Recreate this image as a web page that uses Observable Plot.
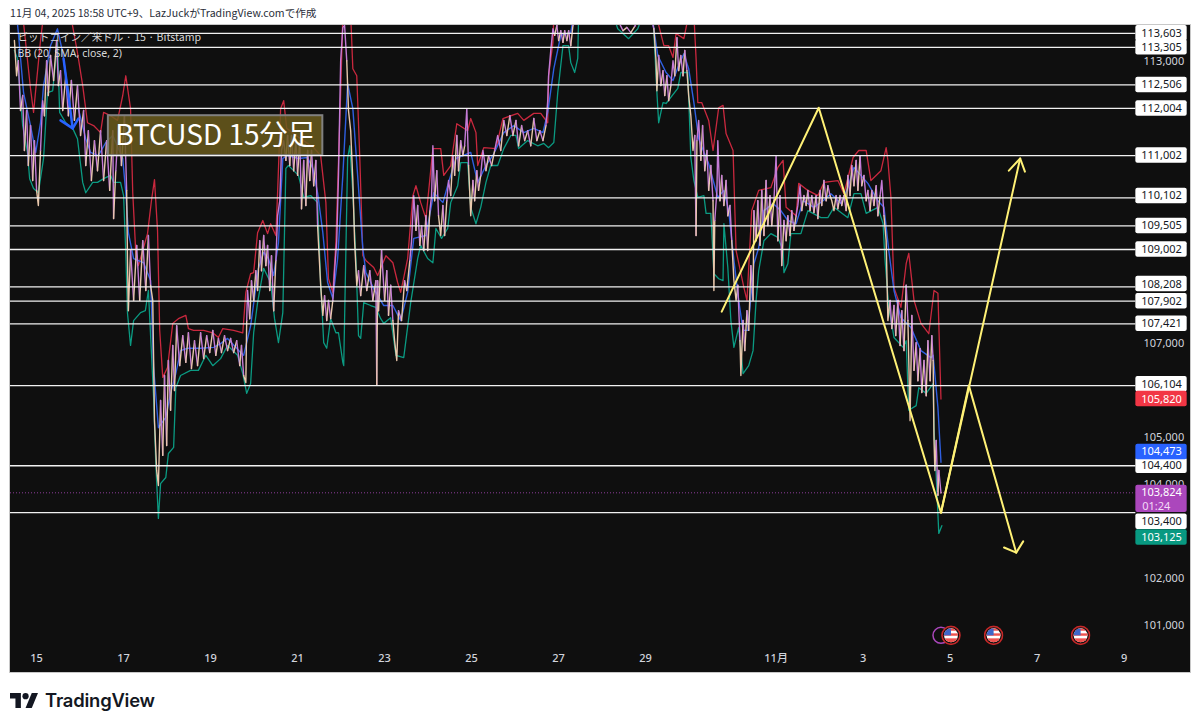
<!DOCTYPE html>
<html lang="ja"><head><meta charset="utf-8">
<script src="https://cdn.jsdelivr.net/npm/d3@7"></script>
<script src="https://cdn.jsdelivr.net/npm/@observablehq/plot@0.6"></script>
<style>
html,body{margin:0;padding:0;background:#fff;width:1200px;height:727px;overflow:hidden}
body{position:relative;font-family:"Noto Sans CJK JP","Noto Sans",sans-serif}
#stamp{position:absolute;left:10px;top:5px;font-size:10.6px;line-height:16px;color:#2a2e39;white-space:nowrap}
#chart{position:absolute;left:10px;top:25px;box-shadow:0 0 0 1px #c8c8c8}
#chart svg{display:block}
#brand{position:absolute;left:10px;top:688px;display:flex;align-items:center;gap:7px;color:#131722;font:600 18.4px/24px Inter,sans-serif;letter-spacing:-.2px}
</style></head><body>
<div id="stamp">11月 04, 2025 18:58 UTC+9、LazJuckがTradingView.comで作成</div>
<div id="chart"></div>
<div id="brand"><svg width="28" height="15" viewBox="0 0 36 19"><path fill="#131722" d="M0 0h14v19H7V7H0z"/><circle cx="20" cy="4" r="4" fill="#131722"/><path fill="#131722" d="M28 0h8l-8 19h-8z"/></svg><span>TradingView</span></div>
<script>
// x unit: day counted from 1 Oct 2025 (32 = 1 Nov)
const upperDays=[14.49,14.68,14.86,14.93,15.09,15.16,15.78,15.94,16.06,16.17,16.31,16.47,16.54,16.70,16.86,16.98,17.05,17.16,17.21,17.28,17.34,17.55,17.64,17.71,17.78,17.83,17.90,18.01,18.13,18.26,18.43,18.49,18.61,18.84,19.05,19.18,19.28,19.53,19.74,19.81,19.92,19.99,20.08,20.20,20.31,20.38,20.50,20.54,20.61,20.68,20.75,21.07,21.37,21.53,21.65,21.71,21.81,21.88,21.99,22.04,22.22,22.27,22.36,22.43,22.50,22.57,22.75,22.84,23.03,23.19,23.30,23.37,23.53,23.65,23.72,23.83,23.95,24.11,24.29,24.36,24.52,24.66,24.91,24.98,25.10,25.14,25.28,25.56,25.72,26.06,26.20,26.43,26.59,26.75,26.77,26.87,26.89,29.24,29.42,29.53,29.63,29.70,29.88,29.99,30.11,30.16,30.20,30.29,30.45,30.55,30.68,30.78,30.85,31.01,31.08,31.26,31.33,31.44,31.60,31.88,32.04,32.16,32.23,32.46,32.52,32.73,32.96,33.10,33.42,33.56,33.77,33.90,34.07,34.18,34.41,34.53,34.57,34.64,34.71,34.87,34.99,35.05,35.17,35.33,35.51,35.63,35.72,35.79];
const upperVals=[114000,114000,112430,111920,113450,114000,114000,113190,112490,111700,111640,111490,111920,111850,111750,112280,112700,112000,110210,108940,108660,109340,110040,110490,109410,107280,106280,106490,107430,107530,107600,107320,107280,107280,107230,107130,107320,107280,107230,108090,108490,108510,109360,109620,109340,109550,109300,110210,112000,112170,111580,111360,111170,111000,110000,108380,108090,109150,112340,114000,114000,112850,112700,110940,108870,108770,108620,108450,108870,108720,108300,108090,108810,110150,110360,110000,109660,111150,111150,110580,110790,111680,111530,111790,111490,110790,111170,111150,111790,111900,111750,111900,111900,111700,112700,113410,114000,114000,113340,113340,113090,113600,113490,114000,114000,113070,112130,112130,111750,111110,112020,112070,111470,111110,108980,108190,107920,109830,110260,110320,110750,110900,109900,109720,110410,110260,110150,110430,110470,110190,110960,111110,111110,110470,110680,111170,110900,110110,108190,107770,108700,108920,107920,107430,107210,108130,108070,105820];

const basisDays=[14.54,14.58,14.70,14.86,14.98,15.09,15.16,15.32,15.48,15.60,15.78,15.96,16.13,16.24,16.42,16.59,16.75,16.88,16.98,17.05,17.11,17.23,17.46,17.62,17.69,17.80,17.97,18.08,18.20,18.31,18.47,18.77,19.07,19.23,19.39,19.69,19.76,19.92,20.10,20.22,20.33,20.45,20.56,20.66,20.77,21.02,21.23,21.35,21.46,21.58,21.69,21.81,21.92,22.04,22.15,22.27,22.38,22.50,22.57,22.75,22.98,23.19,23.37,23.53,23.67,23.95,24.13,24.34,24.47,24.64,24.80,24.98,25.14,25.33,25.51,25.74,25.97,26.20,26.43,26.64,26.75,26.89,27.05,27.28,27.35,29.12,29.19,29.28,29.47,29.63,29.76,29.88,29.99,30.11,30.22,30.34,30.45,30.66,30.80,30.91,31.03,31.14,31.24,31.35,31.49,31.60,31.72,31.93,32.11,32.27,32.46,32.62,32.87,33.08,33.26,33.49,33.65,33.79,34.11,34.34,34.48,34.59,34.71,34.87,35.10,35.33,35.56,35.61,35.72,35.79];
const basisVals=[114000,113620,112340,111640,111070,111700,112490,113340,113700,113190,112000,112000,111360,111070,111000,111280,111430,111150,110940,110210,109360,108810,108720,108340,106490,105210,105430,105940,106360,106850,106900,106900,106920,107000,107110,106810,106750,107380,108600,108940,108810,108450,109150,110940,111000,110940,110960,110730,110210,109360,108300,107960,108810,110580,112530,112000,110580,109020,108510,108170,107810,107810,107490,108090,109240,109300,110210,110000,110430,110940,111000,111070,110430,110790,111040,111490,111640,111490,111580,111490,111920,112850,113560,113620,114000,114000,113700,113130,112770,112600,112920,113170,112850,112130,111360,111070,110830,110110,110260,109830,108770,107920,107280,107280,108700,109040,109830,109980,109830,109620,109550,110040,109900,110040,110190,109980,110320,110750,110410,110040,109900,108980,108130,107550,107340,106850,106700,106750,105640,104473];

const lowerDays=[14.49,14.56,14.68,14.79,14.84,14.93,15.04,15.16,15.25,15.37,15.48,15.53,15.67,15.83,15.94,16.06,16.13,16.29,16.40,16.54,16.70,16.77,16.93,17.00,17.05,17.09,17.16,17.23,17.39,17.50,17.57,17.69,17.74,17.80,17.85,17.97,18.03,18.15,18.20,18.31,18.54,18.72,18.89,19.05,19.23,19.39,19.62,19.74,19.83,19.92,19.99,20.08,20.22,20.38,20.47,20.56,20.66,20.73,20.79,21.02,21.14,21.30,21.46,21.53,21.60,21.67,21.76,21.88,21.94,22.04,22.06,22.15,22.20,22.27,22.34,22.40,22.45,22.52,22.68,22.80,22.91,22.98,23.14,23.26,23.44,23.60,23.76,23.83,23.99,24.11,24.18,24.31,24.45,24.52,24.68,24.75,24.91,24.98,25.10,25.21,25.33,25.44,25.60,25.74,25.90,26.02,26.08,26.29,26.52,26.66,26.77,26.89,26.98,27.10,27.23,27.28,27.37,27.44,27.46,28.25,28.36,28.61,28.82,28.94,29.17,29.26,29.30,29.40,29.47,29.74,29.81,29.97,30.04,30.11,30.20,30.34,30.39,30.50,30.57,30.68,30.78,30.80,30.89,30.96,31.03,31.14,31.24,31.37,31.47,31.54,31.60,31.72,31.88,32.04,32.16,32.18,32.27,32.34,32.57,32.73,33.03,33.19,33.33,33.65,33.79,33.95,34.07,34.34,34.46,34.50,34.59,34.71,34.92,34.99,35.05,35.22,35.28,35.45,35.61,35.63,35.74,35.81];
const lowerVals=[113240,113070,111640,111070,110510,110300,110210,110940,112340,112380,113410,111920,111700,111580,111360,110430,110210,110430,110430,110510,110580,110430,110430,110150,108940,107640,106960,107490,107660,107700,108130,105850,104450,103280,104020,104150,104660,104790,106060,106320,106430,106430,106750,106530,106680,106960,106750,106360,105940,106150,107230,107870,108600,108300,107530,107020,107660,110730,110790,110580,110110,110150,110000,108300,107020,106900,107530,107230,107230,106600,106530,110940,111210,110210,108810,107170,107110,107870,107810,107770,107530,107430,107550,106750,106700,107870,108810,109090,108810,108720,109450,109240,109450,110000,110360,110850,110850,109900,109550,109900,110430,110790,110790,111150,111430,111430,111150,111320,111210,111260,111170,111280,112340,113340,113340,112980,112770,113070,114000,114000,113700,113490,113700,114000,114000,112340,111700,112130,112110,112430,112770,112770,110960,110470,110110,110150,109770,109770,108490,108380,108340,109550,108620,107490,106920,107340,106360,106530,106850,107920,108550,109190,109340,109260,108980,108510,108700,109340,109340,109830,109680,109680,109900,109680,110190,110190,109770,109900,109550,108830,107770,107130,106920,107060,105580,105680,106060,105940,106150,105210,102960,103125];

const closeDays=[14.49,14.54,14.58,14.63,14.68,14.72,14.77,14.81,14.86,14.91,14.95,15.00,15.04,15.09,15.14,15.18,15.23,15.27,15.32,15.39,15.46,15.50,15.55,15.60,15.67,15.73,15.80,15.87,15.94,16.01,16.08,16.13,16.19,16.26,16.33,16.40,16.47,16.54,16.61,16.68,16.75,16.77,16.82,16.88,16.95,17.02,17.07,17.09,17.11,17.16,17.23,17.30,17.37,17.44,17.51,17.57,17.62,17.67,17.71,17.76,17.80,17.85,17.90,17.94,17.99,18.03,18.08,18.13,18.17,18.22,18.29,18.36,18.43,18.49,18.56,18.63,18.70,18.77,18.84,18.91,18.98,19.05,19.12,19.18,19.25,19.32,19.39,19.46,19.53,19.60,19.67,19.71,19.76,19.81,19.83,19.85,19.90,19.94,19.99,20.04,20.08,20.13,20.17,20.22,20.27,20.31,20.36,20.40,20.45,20.50,20.54,20.59,20.63,20.68,20.73,20.77,20.82,20.86,20.91,20.96,21.00,21.05,21.09,21.14,21.19,21.23,21.28,21.32,21.37,21.42,21.46,21.53,21.58,21.62,21.67,21.71,21.76,21.81,21.85,21.90,21.94,21.99,22.04,22.08,22.13,22.17,22.22,22.27,22.31,22.36,22.40,22.45,22.52,22.59,22.66,22.73,22.80,22.82,22.84,22.86,22.93,23.00,23.05,23.09,23.14,23.19,23.23,23.28,23.32,23.39,23.46,23.51,23.58,23.62,23.67,23.72,23.76,23.81,23.85,23.90,23.95,23.99,24.04,24.08,24.11,24.15,24.20,24.24,24.29,24.34,24.38,24.43,24.47,24.52,24.57,24.61,24.66,24.70,24.75,24.80,24.84,24.89,24.93,24.98,25.03,25.07,25.12,25.16,25.21,25.26,25.33,25.39,25.46,25.53,25.60,25.67,25.74,25.81,25.88,25.95,26.02,26.08,26.15,26.22,26.29,26.36,26.43,26.50,26.57,26.64,26.71,26.75,26.77,26.82,26.87,26.91,26.96,27.00,27.05,27.10,27.14,27.19,27.23,27.28,27.33,27.40,28.30,28.48,28.57,28.66,28.75,28.89,29.12,29.19,29.24,29.26,29.30,29.35,29.40,29.44,29.49,29.53,29.58,29.63,29.67,29.72,29.76,29.81,29.86,29.90,29.95,29.99,30.04,30.09,30.13,30.16,30.18,30.22,30.27,30.31,30.36,30.41,30.45,30.50,30.55,30.57,30.59,30.64,30.66,30.71,30.75,30.80,30.85,30.89,30.94,30.98,31.03,31.08,31.12,31.17,31.19,31.24,31.28,31.33,31.37,31.42,31.47,31.49,31.54,31.58,31.63,31.67,31.72,31.77,31.81,31.86,31.90,31.95,32.00,32.04,32.09,32.13,32.18,32.23,32.27,32.32,32.36,32.41,32.46,32.50,32.55,32.59,32.64,32.69,32.73,32.78,32.82,32.87,32.92,32.96,33.01,33.05,33.10,33.15,33.19,33.24,33.28,33.33,33.38,33.42,33.47,33.51,33.56,33.61,33.65,33.70,33.74,33.79,33.84,33.88,33.93,33.97,34.02,34.07,34.11,34.16,34.20,34.25,34.30,34.34,34.39,34.43,34.48,34.53,34.57,34.62,34.66,34.71,34.75,34.80,34.85,34.89,34.94,34.99,35.03,35.08,35.12,35.17,35.22,35.26,35.31,35.35,35.40,35.45,35.49,35.54,35.58,35.61,35.63,35.65,35.68,35.72,35.74,35.79];
const closeVals=[113450,112700,113020,111960,112280,111110,111960,110790,111640,110470,111320,110260,109940,111110,112170,111850,113020,112280,113130,112600,113450,112490,112810,111960,112700,111850,112600,111750,112490,111430,111960,110790,111530,110470,111320,110680,111530,110470,111320,110260,111530,109660,110680,111640,110790,111850,110260,108770,107700,108980,107920,109090,107920,109190,108130,109300,108240,107920,105360,104300,103980,105790,104620,106320,104830,106640,105580,106960,106000,107380,106530,107170,106600,107230,106470,107060,106530,107230,106680,107170,106810,107280,106750,107110,106810,107170,106850,107110,106810,107060,106530,106960,106320,106170,107490,108130,107530,108340,107920,108550,108130,109190,108550,109300,108660,109090,108130,108870,107700,108770,109720,110040,111110,111320,110900,111430,110790,111430,110680,111320,110580,111320,109870,110900,109940,111110,110470,111110,110360,110900,109510,108240,107600,108020,107490,107920,107530,107920,108550,109190,110580,113020,113730,113770,113020,111960,111530,110470,109190,108240,108550,108020,108660,108130,108550,107920,108340,106110,108340,107700,108980,107920,108550,107600,108240,107490,107060,106640,107700,107490,108340,108130,108770,109190,110150,109410,109940,109090,109510,108980,109720,108980,109830,110150,111210,110040,110680,109720,109300,109940,109300,110040,110470,110150,111000,110580,111430,110680,111320,111000,111210,112000,110790,109720,110470,110040,110680,110260,110580,111110,110680,111000,110790,111110,111430,111110,111750,111430,111850,111430,111750,111210,111640,111320,111530,111210,111790,111320,111530,111320,111640,112170,112700,113240,113700,113560,113770,113450,113660,113410,113660,113450,113660,113340,113770,114000,114000,113660,113730,113620,113750,114000,114000,113700,113020,112380,113130,112490,112810,112280,112700,112170,112490,113020,112700,113510,112810,113130,112700,113240,112810,112280,111850,111110,111430,109300,111320,111750,110900,111640,110680,111110,110260,110790,110040,108130,109620,110260,111320,110040,110580,109940,110470,109720,109940,109190,108340,107920,108240,107060,106320,107490,106850,107700,107280,108660,107920,109830,109190,110040,109090,110260,109300,110470,109510,110150,109510,110040,111000,109190,110150,108660,109620,109190,109720,109300,109830,109410,109720,109940,110360,109830,110150,109940,110260,109830,110150,109790,110150,109660,110260,109940,110470,110040,110360,110150,110040,109830,110150,109870,110150,109940,110150,109830,110580,110150,110790,110360,110900,110260,111000,110360,110580,110040,110260,109830,110260,109940,110360,109720,110150,110470,109720,109190,107490,107920,107320,107810,107170,107920,106960,107700,106850,108240,107490,105360,107600,106430,107020,106210,106890,105960,106640,105890,107060,106210,107170,106640,104940,104300,104940,103770,104300,103824];

// horizontal levels the author drew, and their axis tags
const levelVals=[113603,113305,112506,112004,111002,110102,109505,109002,108208,107902,107421,106104,104400,103400];
const levelTagShift=[0,0,0,0,0,40,0,0,60,0,0,30,0,-190];
const axisTicks=[113000,107000,105000,104000,102000,101000];
const dayTicks=[15,17,19,21,23,25,27,29,32,34,36,38,40];
const quoteVals=[105820,104473,103125];
const quoteShift=[0,220,-250];
const quoteColors=["#f23645","#2962ff","#089981"];
const lastClose=103824;

// yellow sketch: zig-zag with two arrows
const zigDays=[30.75,32.98,35.79,36.43,37.52], zigVals=[107680,112020,103400,106110,102550];
const zigHeadDays=[37.24,37.52,37.68], zigHeadVals=[102660,102550,102790];
const riseDays=[35.79,37.61], riseVals=[103400,110940];
const riseHeadDays=[37.35,37.61,37.72], riseHeadVals=[110680,110940,110660];
const blueDays=[15.62,15.83], blueVals=[113060,111580];
const blueHeadDays=[15.55,15.83,15.96], blueHeadVals=[111750,111580,111790];

const flagDays=[36.02,37.0,39.0];
const eventDay=35.79, eventRow=100790;

const pairs=(a,b)=>a.map((d,i)=>({d,v:b[i]}));
const closes=pairs(closeDays,closeVals).map((p,i)=>({...p,up:i>0&&p.v>=closeVals[i-1]}));
const xL=14.4,xR=40.147,tag0=40.27,tag1=41.45,tagC=40.86,half=165;
const text="#d1d4dc", font='"Noto Sans","Noto Sans CJK JP",sans-serif';
const flag="data:image/svg+xml,"+encodeURIComponent('<svg xmlns="http://www.w3.org/2000/svg" viewBox="0 0 20 20"><defs><clipPath id="c"><circle cx="10" cy="10" r="7"/></clipPath></defs><circle cx="10" cy="10" r="9" fill="#111" stroke="#c62828" stroke-width="1.6"/><g clip-path="url(#c)"><rect width="20" height="20" fill="#fff"/><rect y="3" width="20" height="2.4" fill="#ef5350"/><rect y="8" width="20" height="2.4" fill="#ef5350"/><rect y="13" width="20" height="4.5" fill="#ef5350"/><rect x="3" y="3" width="7" height="7" fill="#3f66c9"/></g></svg>');

const levels=levelVals.map((v,i)=>({v,c:v+(levelTagShift[i]||0)}));
const quotes=quoteVals.map((v,i)=>({v,c:v+quoteShift[i],fill:quoteColors[i]}));
const fmt=d3.format(",");

const chart=Plot.plot({
  width:1180,height:647,marginLeft:0,marginRight:60,marginTop:0,marginBottom:24,
  style:{background:"#0f0f0f",color:text,fontFamily:font,overflow:"visible"},
  x:{type:"linear",domain:[xL,xR]},
  y:{type:"linear",domain:[100510,113770]},
  marks:[
    Plot.line(pairs(upperDays,upperVals),{x:"d",y:"v",stroke:"#c9283e",strokeWidth:1.3,clip:"frame"}),
    Plot.line(pairs(lowerDays,lowerVals),{x:"d",y:"v",stroke:"#0b9a82",strokeWidth:1.3,clip:"frame"}),
    Plot.line(pairs(basisDays,basisVals),{x:"d",y:"v",stroke:"#2f5fe0",strokeWidth:1.4,clip:"frame"}),
    Plot.line(closes,{x:"d",y:"v",z:null,stroke:{value:d=>d.up?"#c47bd6":"#e9c8ac",scale:null},strokeWidth:1.4,clip:"frame"}),
    Plot.line(pairs(blueDays,blueVals),{x:"d",y:"v",stroke:"#2962ff",strokeWidth:2.5}),
    Plot.line(pairs(blueHeadDays,blueHeadVals),{x:"d",y:"v",stroke:"#2962ff",strokeWidth:2.5}),
    Plot.rect([{}],{x1:()=>16.65,x2:()=>21.58,y1:()=>111000,y2:()=>111850,fill:"#6a5a1c",fillOpacity:.85,stroke:"#808080",strokeWidth:2}),
    Plot.text(["BTCUSD 15分足"],{x:()=>19.11,y:()=>111410,fill:"#fff",fontSize:28,fontFamily:'"Noto Sans CJK JP",sans-serif'}),
    Plot.ruleY([lastClose],{x1:()=>xL,x2:()=>tag0,stroke:"#ab47bc",strokeOpacity:.8,strokeDasharray:"1 2"}),
    Plot.ruleY(levels,{y:"v",x1:()=>xL,x2:()=>tag0,stroke:"#f2f2f2",strokeWidth:1.3}),
    Plot.line(pairs(zigDays,zigVals),{x:"d",y:"v",stroke:"#fff176",strokeWidth:2}),
    Plot.line(pairs(zigHeadDays,zigHeadVals),{x:"d",y:"v",stroke:"#fff176",strokeWidth:2}),
    Plot.line(pairs(riseDays,riseVals),{x:"d",y:"v",stroke:"#fff176",strokeWidth:2}),
    Plot.line(pairs(riseHeadDays,riseHeadVals),{x:"d",y:"v",stroke:"#fff176",strokeWidth:2}),
    Plot.axisX({ticks:dayTicks,tickSize:0,tickPadding:6,fontSize:11,fontWeight:500,fill:text,label:null,tickFormat:d=>d===32?"11月":d>31?String(d-31):String(d)}),
    Plot.axisY({anchor:"right",ticks:axisTicks,tickSize:0,tickPadding:13,fontSize:11,fill:text,label:null,tickFormat:fmt}),
    Plot.rect(levels,{x1:()=>tag0,x2:()=>tag1,y1:d=>d.c-half,y2:d=>d.c+half,fill:"#fff",rx:2}),
    Plot.text(levels,{x:()=>tagC,y:"c",text:d=>fmt(d.v),fill:"#131722",fontSize:11}),
    Plot.rect(quotes,{x1:()=>tag0,x2:()=>tag1,y1:d=>d.c-half,y2:d=>d.c+half,fill:"fill",rx:2}),
    Plot.text(quotes,{x:()=>tagC,y:"c",text:d=>fmt(d.v),fill:"#fff",fontSize:11}),
    Plot.rect([lastClose],{x1:()=>tag0,x2:()=>tag1,y1:d=>d-420,y2:d=>d+160,fill:"#ab47bc",rx:2}),
    Plot.text([lastClose],{x:()=>tagC,y:d=>d,text:d=>fmt(d),fill:"#fff",fontSize:11}),
    Plot.text(["01:24"],{x:()=>tagC-.12,y:()=>103540,fill:"#f3d9f7",fontSize:11}),
    Plot.dot([eventDay],{x:d=>d,y:()=>eventRow,r:8,stroke:"#ab47bc",strokeWidth:1.5}),
    Plot.image(flagDays,{x:d=>d,y:()=>eventRow,src:()=>flag,width:20,height:20}),
    Plot.text(["ビットコイン／米ドル · 15 · Bitstamp"],{frameAnchor:"top-left",dx:7,dy:8,fill:"#d8d8d8",fontSize:10.6,fontFamily:'"Noto Sans CJK JP",sans-serif',textAnchor:"start"}),
    Plot.text(["BB (20, SMA, close, 2)"],{frameAnchor:"top-left",dx:7,dy:24,fill:"#d8d8d8",fontSize:10.5,textAnchor:"start"})
  ]
});
document.getElementById("chart").append(chart);
</script>
</body></html>
